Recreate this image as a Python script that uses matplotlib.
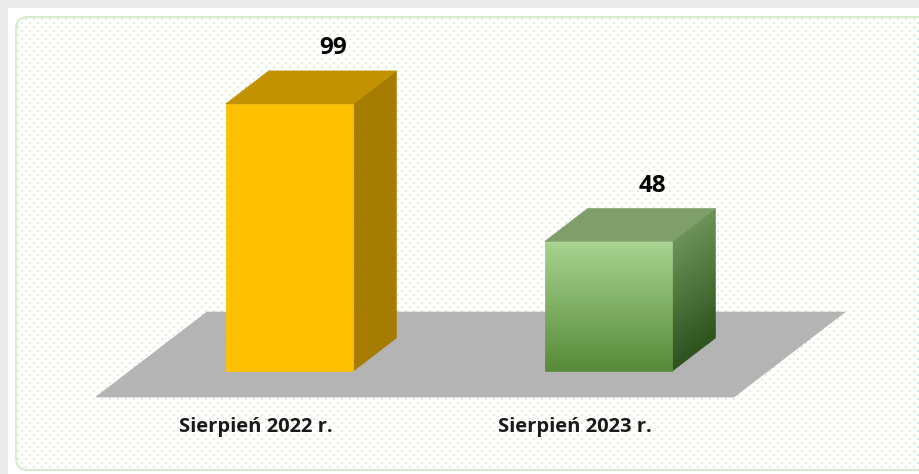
import numpy as np
import matplotlib
matplotlib.use("Agg")
import matplotlib.pyplot as plt
import matplotlib.transforms as mtransforms
from matplotlib.patches import Polygon, Rectangle, FancyBboxPatch
from matplotlib.colors import to_rgb

# dane
kategorie = ["Sierpień 2022 r.", "Sierpień 2023 r."]
wartosci = [99, 48]

# kolory słupków: (przód góra, przód dół, wierzch, bok góra, bok dół)
kolory = [
    ("#FFC000", "#FFC000", "#C29200", "#A67C00", "#A67C00"),
    ("#A6D38E", "#578A38", "#7E9F6A", "#6B9257", "#2B521D"),
]

plt.rcParams['font.family'] = ['Open Sans', 'DejaVu Sans']

W, H = 919, 474
fig = plt.figure(figsize=(W / 100, H / 100), dpi=100)

# tło z ramką i kropkami
bg = fig.add_axes([0, 0, 1, 1])
bg.set_xlim(0, W)
bg.set_ylim(H, 0)
bg.axis('off')
bg.add_patch(Rectangle((0, 0), W, 8, color='#ebebeb', lw=0))
bg.add_patch(Rectangle((0, 0), 8, H, color='#ebebeb', lw=0))
panel = FancyBboxPatch((16, 17), W, H - 21,
                       boxstyle="round,pad=0,rounding_size=12",
                       facecolor='white', edgecolor='#d6ebcc', lw=1.5)
bg.add_patch(panel)
gx, gy = [], []
for r, yy in enumerate(np.arange(19, H, 4)):
    for xx in np.arange(18 + (r % 2) * 4, W, 8):
        gx.append(xx)
        gy.append(yy)
dots = bg.scatter(gx, gy, s=1.0, marker='s', color='#dcedd2', lw=0)
dots.set_clip_path(panel)

# osie danych - płaszczyzna przednich ścian słupków
ax = fig.add_axes([130 / W, (H - 371) / H, 638 / W, 296.7 / H])
ax.set_xlim(-0.5, 1.5)
ax.set_ylim(0, 110)
ax.axis('off')

ident = mtransforms.IdentityTransform()
szer = 0.4
glab = np.array([43.0, 33.0])          # głębokość słupka w pikselach
podl_przod = np.array([-34.0, -26.0])  # przesunięcie krawędzi podłogi
podl_tyl = np.array([77.0, 59.0])


def px(x, y):
    return ax.transData.transform((x, y))


def wielokat(pts, kolor, z):
    p = Polygon(pts, closed=True, facecolor=kolor, edgecolor=kolor, lw=0.5,
                transform=ident, clip_on=False, zorder=z)
    ax.add_patch(p)


def miesz(c1, c2, t):
    a, b = np.array(to_rgb(c1)), np.array(to_rgb(c2))
    return a + (b - a) * t


# podłoga
x0, x1 = ax.get_xlim()
lp, pp = px(x0, 0), px(x1, 0)
wielokat([lp + podl_przod, pp + podl_przod, pp + podl_tyl, lp + podl_tyl],
         '#B4B4B4', 1)

n = 60
for i, (kat, v) in enumerate(zip(kategorie, wartosci)):
    fg, fd, wierzch, bg_, bd = kolory[i]
    a = px(i - szer / 2, 0)
    b = px(i + szer / 2, 0)
    c = px(i + szer / 2, v)
    d = px(i - szer / 2, v)
    # przód i bok jako paski z gradientem
    for k in range(n):
        t0, t1 = k / n, (k + 1) / n
        ya = c[1] + (a[1] - c[1]) * t0
        yb = c[1] + (a[1] - c[1]) * t1
        kol = miesz(fg, fd, (t0 + t1) / 2)
        wielokat([(a[0], ya), (b[0], ya), (b[0], yb), (a[0], yb)], kol, 3)
        kol = miesz(bg_, bd, (t0 + t1) / 2)
        wielokat([(b[0], ya), (b[0] + glab[0], ya + glab[1]),
                  (b[0] + glab[0], yb + glab[1]), (b[0], yb)], kol, 2)
    wielokat([d, c, c + glab, d + glab], wierzch, 3)

    ax.annotate(str(v), (i, v), xytext=(glab[0] + 1, glab[1] + 11),
                textcoords='offset pixels', ha='center', va='bottom',
                fontsize=17.5, fontweight='bold', color='black', zorder=5)
    ax.annotate(kat, (i, 0), xytext=(podl_przod[0], podl_przod[1] - 30),
                textcoords='offset pixels', ha='center', va='center',
                fontsize=14.5, fontweight='bold', color='#1a1a1a', zorder=5)

fig.savefig("out.png", dpi=100)
